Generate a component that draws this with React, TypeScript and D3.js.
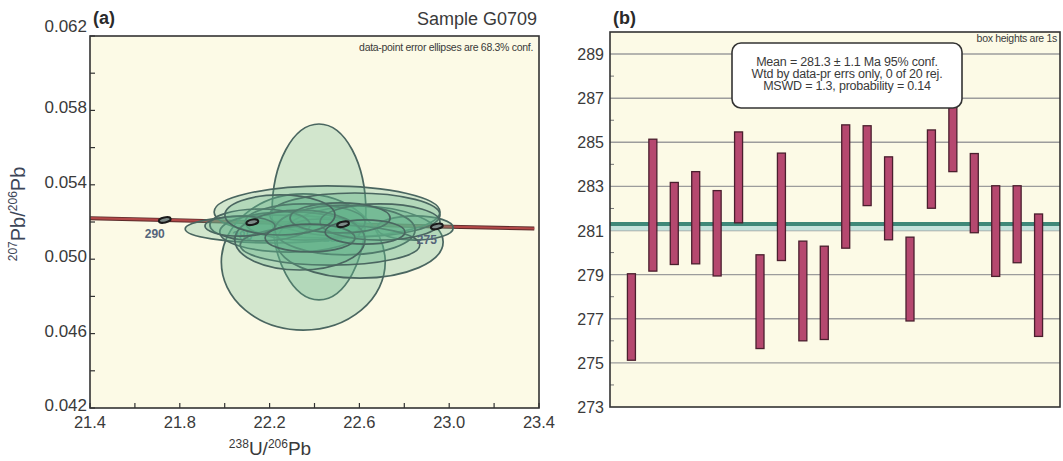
import React from "react";
import * as d3 from "d3";

// ---- panel (a): concordia ----
const xTicksA = [21.4, 21.8, 22.2, 22.6, 23.0, 23.4];
const xMinorA = [21.6, 22.0, 22.4, 22.8, 23.2];
const yTicksA = [0.042, 0.046, 0.05, 0.054, 0.058, 0.062];
const yMinorA = [0.044, 0.048, 0.052, 0.056, 0.06];

// concordia curve points (238U/206Pb, 207Pb/206Pb)
const concAge = [295, 290, 285, 280, 275, 270];
const concX = [21.356, 21.733, 22.123, 22.527, 22.945, 23.379];
const concY = [0.05222, 0.05211, 0.05199, 0.05188, 0.05176, 0.05165];

// error ellipses: centre and semi-axes
const ellX = [22.42, 22.35, 22.456, 22.224, 22.603, 22.848, 22.58, 22.425, 22.358, 22.29, 22.536, 22.157, 22.469, 22.335, 22.692, 22.068, 22.514, 22.246, 22.38, 22.625];
const ellY = [0.05254, 0.04985, 0.05254, 0.05162, 0.05092, 0.05168, 0.05238, 0.05184, 0.052, 0.05146, 0.05157, 0.05184, 0.05076, 0.05103, 0.052, 0.05178, 0.05222, 0.05238, 0.05114, 0.05146];
const ellSx = [0.209, 0.365, 0.503, 0.4, 0.37, 0.17, 0.379, 0.111, 0.267, 0.312, 0.312, 0.223, 0.4, 0.29, 0.267, 0.156, 0.223, 0.245, 0.2, 0.178];
const ellSy = [0.00473, 0.00366, 0.0014, 0.00075, 0.00194, 0.00065, 0.00118, 0.00032, 0.00097, 0.00108, 0.00134, 0.00086, 0.00108, 0.00161, 0.00097, 0.00054, 0.00081, 0.00108, 0.00075, 0.00065];

// ---- panel (b): weighted mean ----
const ageTop = [279.04, 285.14, 283.18, 283.67, 282.81, 285.47, 279.9, 284.51, 280.52, 280.29, 285.79, 285.75, 284.34, 280.7, 285.56, 287.8, 284.49, 283.03, 283.03, 281.75];
const ageBot = [275.12, 279.16, 279.46, 279.49, 278.94, 281.35, 275.65, 279.64, 276.0, 276.06, 280.2, 282.13, 280.58, 276.9, 282.01, 283.67, 280.9, 278.92, 279.54, 276.2];
const yTicksB = [273, 275, 277, 279, 281, 283, 285, 287, 289];
const yMinorB = [274, 276, 278, 280, 282, 284, 286, 288];
const meanAge = 281.3;
const infoLines = [
  "Mean = 281.3 \u00b1 1.1 Ma 95% conf.",
  "Wtd by data-pr errs only, 0 of 20 rej.",
  "MSWD = 1.3, probability = 0.14",
];

const FONT = "'Liberation Sans', Arial, sans-serif";
const TXT = "#3a3a3a";

export default function App() {
  // panel a geometry
  const a = { l: 90, r: 539, t: 36, b: 408 };
  const xa = d3.scaleLinear().domain([21.4, 23.4]).range([a.l, a.r]);
  const ya = d3.scaleLinear().domain([0.042, 0.062]).range([a.b, a.t]);
  const concLine = d3
    .line<number>()
    .x((_, i) => xa(concX[i]))
    .y((_, i) => ya(concY[i]))(concX)!;

  // panel b geometry
  const b = { l: 610, r: 1060, t: 32, b: 407 };
  const xb = d3.scaleLinear().domain([0, 21]).range([b.l, b.r]);
  const yb = d3.scaleLinear().domain([273, 290]).range([b.b, b.t]);
  const barW = 8;

  const ageLabel = (i: number) => (
    <text key={"al" + i} x={xa(concX[i]) - 10} y={ya(concY[i]) + 18} fontSize={12} fontWeight="bold" fill="#55657a" textAnchor="middle">
      {concAge[i]}
    </text>
  );

  return (
    <svg
      width={1063}
      height={461}
      style={{ position: "absolute", left: 0, top: 0, background: "#fff" }}
      fontFamily={FONT}
    >
      <defs>
        <clipPath id="clipA">
          <rect x={a.l} y={a.t} width={a.r - a.l} height={a.b - a.t} />
        </clipPath>
      </defs>

      {/* ===== panel a ===== */}
      <rect x={a.l} y={a.t} width={a.r - a.l} height={a.b - a.t} fill="#fcfae6" />
      <g clipPath="url(#clipA)">
        <path d={concLine} fill="none" stroke="#5a2a2a" strokeWidth={4} />
        <path d={concLine} fill="none" stroke="#b24848" strokeWidth={2.2} />
        {[2, 3].map(ageLabel)}
        {ellX.map((cx, i) => (
          <ellipse
            key={i}
            cx={xa(cx)}
            cy={ya(ellY[i])}
            rx={xa(cx + ellSx[i]) - xa(cx)}
            ry={ya(ellY[i]) - ya(ellY[i] + ellSy[i])}
            fill="#5fb08a"
            fillOpacity={0.27}
            stroke="#4a6660"
            strokeWidth={1.7}
          />
        ))}
        {[1, 2, 3, 4].map((i) => (
          <ellipse
            key={"m" + i}
            cx={xa(concX[i])}
            cy={ya(concY[i])}
            rx={6}
            ry={2.6}
            transform={`rotate(-12 ${xa(concX[i])} ${ya(concY[i])})`}
            fill="#7d8b88"
            stroke="#1a1a1a"
            strokeWidth={2}
          />
        ))}
        {[1, 4].map(ageLabel)}
      </g>
      <rect x={a.l} y={a.t} width={a.r - a.l} height={a.b - a.t} fill="none" stroke="#333" strokeWidth={1.6} />
      {xTicksA.concat(xMinorA).map((v) => (
        <line key={"xa" + v} x1={xa(v)} x2={xa(v)} y1={a.b} y2={a.b - 5} stroke="#333" strokeWidth={1.2} />
      ))}
      {yTicksA.concat(yMinorA).map((v) => (
        <line key={"ya" + v} x1={a.l} x2={a.l + 5} y1={ya(v)} y2={ya(v)} stroke="#333" strokeWidth={1.2} />
      ))}
      {xTicksA.map((v) => (
        <text key={"xl" + v} x={xa(v)} y={a.b + 20} fontSize={16.5} fill={TXT} textAnchor="middle">
          {v.toFixed(1)}
        </text>
      ))}
      {yTicksA.map((v) => (
        <text key={"yl" + v} x={a.l - 3} y={ya(v) + (v === 0.062 ? -4 : 3)} fontSize={17} fill={TXT} textAnchor="end">
          {v.toFixed(3)}
        </text>
      ))}
      <text x={270} y={455} fontSize={19} fill={TXT} textAnchor="middle">
        <tspan fontSize={12} dy={-7}>238</tspan>
        <tspan dy={7}>U/</tspan>
        <tspan fontSize={12} dy={-7}>206</tspan>
        <tspan dy={7}>Pb</tspan>
      </text>
      <text transform="translate(25,214) rotate(-90)" fontSize={20} fill="#3c4658" textAnchor="middle">
        <tspan fontSize={12} dy={-8}>207</tspan>
        <tspan dy={8}>Pb/</tspan>
        <tspan fontSize={12} dy={-8}>206</tspan>
        <tspan dy={8}>Pb</tspan>
      </text>
      <text x={93} y={24} fontSize={18} fontWeight="bold" fill="#2a2a2a">(a)</text>
      <text x={537} y={25} fontSize={18} fill={TXT} textAnchor="end">Sample G0709</text>
      <text x={533} y={51} fontSize={10.5} fill={TXT} textAnchor="end" letterSpacing={-0.3}>data-point error ellipses are 68.3% conf.</text>

      {/* ===== panel b ===== */}
      <rect x={b.l} y={b.t} width={b.r - b.l} height={b.b - b.t} fill="#fcfae6" />
      {yTicksB.slice(1).map((v) => (
        <line key={"gb" + v} x1={b.l} x2={b.r} y1={yb(v)} y2={yb(v)} stroke="#9c9c9c" strokeWidth={1.4} />
      ))}
      {yMinorB.map((v) => (
        <line key={"mb" + v} x1={b.l} x2={b.l + 4} y1={yb(v)} y2={yb(v)} stroke="#777" strokeWidth={1} />
      ))}
      <rect x={b.l} y={yb(meanAge + 0.05)} width={b.r - b.l} height={yb(meanAge - 0.3) - yb(meanAge + 0.05)} fill="#c4e2db" />
      <line x1={b.l} x2={b.r} y1={yb(meanAge)} y2={yb(meanAge)} stroke="#3f8878" strokeWidth={4} />
      {ageTop.map((t, i) => (
        <rect
          key={"bar" + i}
          x={xb(i + 1) - barW / 2}
          y={yb(t)}
          width={barW}
          height={yb(ageBot[i]) - yb(t)}
          fill="#b5486f"
          stroke="#4a1f2e"
          strokeWidth={1.3}
        />
      ))}
      <rect x={b.l} y={b.t} width={b.r - b.l} height={b.b - b.t} fill="none" stroke="#333" strokeWidth={1.6} />
      {yTicksB.map((v) => (
        <text key={"yb" + v} x={b.l - 6} y={yb(v) + 6} fontSize={16} fill={TXT} textAnchor="end">
          {v}
        </text>
      ))}
      <rect x={732} y={43} width={230} height={65} rx={9} fill="#fff" stroke="#333" strokeWidth={1.6} />
      {infoLines.map((s, i) => (
        <text key={s} x={847} y={66 + i * 12} fontSize={12.5} fill={TXT} textAnchor="middle" letterSpacing={-0.2}>
          {s}
        </text>
      ))}
      <text x={1057} y={42} fontSize={10.5} fill={TXT} textAnchor="end" letterSpacing={-0.3}>box heights are 1s</text>
      <text x={613} y={24} fontSize={18} fontWeight="bold" fill="#2a2a2a">(b)</text>
    </svg>
  );
}
